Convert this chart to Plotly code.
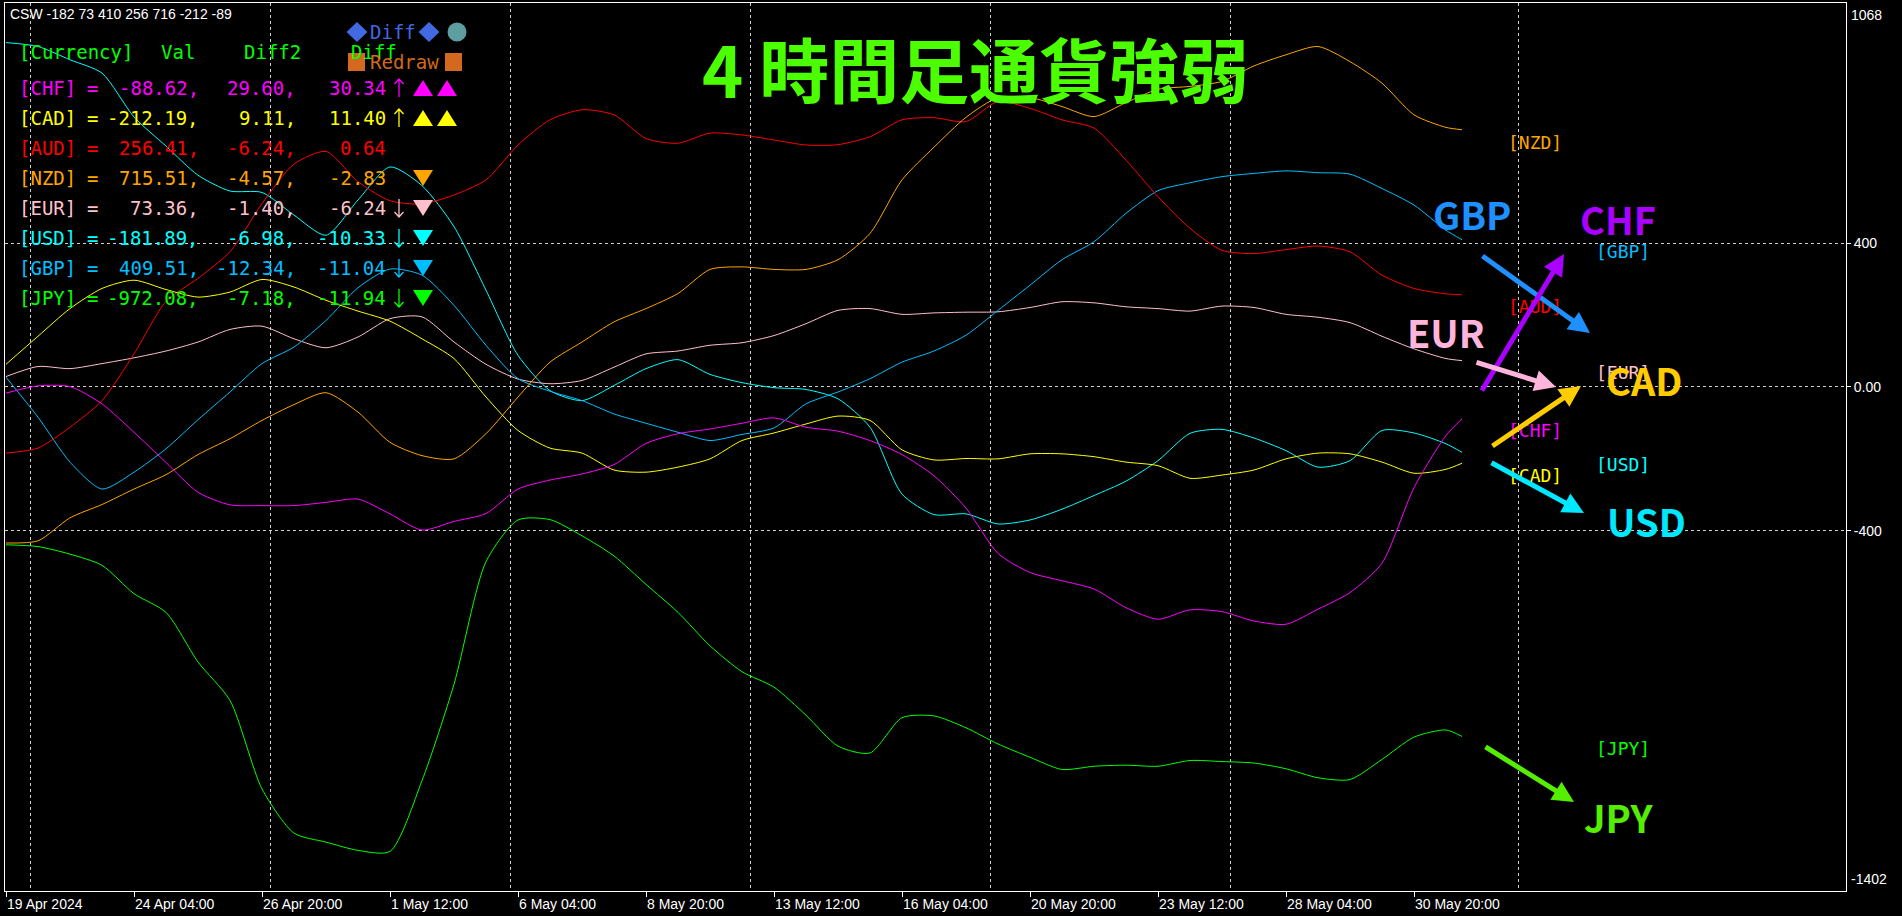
import plotly.graph_objects as go

# ---- bars: 4H bar index (0 = 19 Apr 2024 12:00, weekend bars skipped) ----
bar_idx = list(range(0, 181, 4)) + [182]

usd = [958, 947, 910, 873, 751, 670, 589, 545, 541, 478, 422, 520, 612, 560, 446, 269,
       88, -10, -38, 4, 51, 76, 35, 12, -2, -7, -33, -112, -298, -355, -353, -381,
       -370, -340, -302, -262, -205, -129, -118, -142, -177, -223, -205, -121, -128, -158, -181.89]
eur = [29, 57, 51, 65, 81, 100, 125, 160, 169, 134, 109, 139, 190, 195, 125, 63,
       22, 9, 18, 55, 92, 100, 116, 123, 143, 176, 213, 218, 202, 206, 208, 209,
       221, 237, 234, 223, 218, 211, 225, 221, 202, 194, 179, 141, 106, 79, 73.36]
gbp = [27, -84, -209, -284, -237, -172, -91, -14, 65, 111, 185, 276, 328, 311, 227, 116,
       23, -12, -38, -75, -101, -126, -149, -132, -114, -47, -14, 23, 69, 100, 144, 213,
       283, 354, 404, 483, 546, 568, 585, 594, 601, 596, 592, 552, 506, 436, 409.51]
aud = [-184, -170, -112, -38, 92, 238, 302, 376, 510, 620, 655, 571, 518, 509, 534, 576,
       673, 743, 771, 757, 691, 678, 706, 701, 687, 673, 674, 696, 743, 749, 738, 794,
       775, 743, 720, 631, 529, 441, 380, 371, 382, 392, 376, 311, 274, 259, 256.41]
nzd = [-434, -428, -364, -327, -284, -244, -188, -144, -93, -49, -16, -70, -154, -191, -200, -130,
       -28, 69, 125, 181, 218, 260, 327, 334, 327, 327, 354, 427, 576, 667, 750, 805,
       805, 780, 752, 791, 828, 836, 850, 893, 924, 947, 905, 845, 757, 722, 715.51]
cad = [63, 141, 218, 274, 297, 271, 250, 264, 299, 278, 241, 211, 183, 134, 79, -28,
       -121, -170, -184, -231, -237, -223, -200, -149, -128, -103, -81, -93, -175, -203, -199, -200,
       -186, -186, -194, -209, -219, -254, -245, -231, -200, -184, -186, -209, -240, -229, -212.19]
chf = [-17, 3, 1, -47, -126, -210, -293, -328, -330, -330, -321, -312, -353, -398, -374, -352,
       -284, -259, -242, -216, -157, -130, -117, -101, -86, -112, -123, -149, -188, -247, -337, -463,
       -516, -539, -562, -614, -646, -620, -625, -651, -660, -618, -572, -490, -280, -135, -88.62]
jpy = [-439, -444, -465, -496, -575, -627, -765, -872, -1118, -1241, -1266, -1289, -1292, -1095, -827, -486,
       -370, -369, -414, -470, -549, -627, -720, -792, -835, -913, -999, -1018, -920, -915, -948, -993,
       -1030, -1064, -1055, -1052, -1055, -1039, -1042, -1046, -1062, -1087, -1092, -1036, -974, -954, -972.08]

currencies = ["CHF", "CAD", "AUD", "NZD", "EUR", "USD", "GBP", "JPY"]
series = {"CHF": chf, "CAD": cad, "AUD": aud, "NZD": nzd,
          "EUR": eur, "USD": usd, "GBP": gbp, "JPY": jpy}
diff2 = {"CHF": 29.60, "CAD": 9.11, "AUD": -6.24, "NZD": -4.57,
         "EUR": -1.40, "USD": -6.98, "GBP": -12.34, "JPY": -7.18}
diff = {"CHF": 30.34, "CAD": 11.40, "AUD": 0.64, "NZD": -2.83,
        "EUR": -6.24, "USD": -10.33, "GBP": -11.04, "JPY": -11.94}
# +1 rising, -1 falling, 0 no arrow
trend_arrow = {"CHF": 1, "CAD": 1, "AUD": 0, "NZD": 0,
               "EUR": -1, "USD": -1, "GBP": -1, "JPY": -1}
# number of marks and direction: +n = up triangles, -n = down triangles
trend_marks = {"CHF": 2, "CAD": 2, "AUD": 0, "NZD": -1,
               "EUR": -1, "USD": -1, "GBP": -1, "JPY": -1}
csw_values = [-182, 73, 410, 256, 716, -212, -89]

tick_bars = [0, 16, 32, 48, 64, 80, 96, 112, 128, 144, 160, 176]
tick_labels = ["19 Apr 2024", "24 Apr 04:00", "26 Apr 20:00", "1 May 12:00",
               "6 May 04:00", "8 May 20:00", "13 May 12:00", "16 May 04:00",
               "20 May 20:00", "23 May 12:00", "28 May 04:00", "30 May 20:00"]
week_bars = [3, 33, 63, 93, 123, 153, 189]

colors = {"CHF": "#ff00ff", "CAD": "#ffff00", "AUD": "#ff0000", "NZD": "#ffa500",
          "EUR": "#ffc0cb", "USD": "#00ffff", "GBP": "#00bfff", "JPY": "#00ff00"}

W, H = 1902, 916
PL, PR, PT, PB = 5, 1846, 3, 891


def px(x):
    return (x - PL) / (PR - PL)


def py(y):
    return (PB - y) / (PB - PT)


MONO = "DejaVu Sans Mono"
SANS = "Liberation Sans"
CJK = "Noto Sans CJK JP"

fig = go.Figure()
for cur in ["USD", "EUR", "GBP", "AUD", "NZD", "CAD", "CHF", "JPY"]:
    fig.add_trace(go.Scatter(
        x=bar_idx, y=series[cur], mode="lines", name=cur,
        line=dict(color=colors[cur], width=1, shape="spline", smoothing=0.7),
        hoverinfo="skip"))

annotations = []
shapes = []


def txt(s, x, y, color, size, family, xanchor="left"):
    annotations.append(dict(
        text=s, x=px(x), y=py(y), xref="paper", yref="paper",
        xanchor=xanchor, yanchor="middle", showarrow=False, borderpad=0,
        font=dict(color=color, size=size, family=family)))


def poly(points, color):
    d = "M " + " L ".join(f"{px(x):.5f},{py(y):.5f}" for x, y in points) + " Z"
    shapes.append(dict(type="path", path=d, xref="paper", yref="paper",
                       fillcolor=color, line=dict(width=0), layer="above"))


def stroke(segments, color, width=1.3):
    d = " ".join("M " + " L ".join(f"{px(x):.5f},{py(y):.5f}" for x, y in seg)
                 for seg in segments)
    shapes.append(dict(type="path", path=d, xref="paper", yref="paper",
                       line=dict(color=color, width=width), layer="above"))


# header line
txt("CSW " + " ".join(str(v) for v in csw_values), 9, 14, "#ffffff", 14, SANS)

# status markers
poly([(357, 22), (367.5, 32), (357, 42), (346.5, 32)], "#4169e1")
txt("Diff", 369, 32, "#4169e1", 19, MONO)
poly([(429, 22), (439.5, 32), (429, 42), (418.5, 32)], "#4169e1")
shapes.append(dict(type="circle", xref="paper", yref="paper",
                   x0=px(447.5), x1=px(466.5), y0=py(41.5), y1=py(22.5),
                   fillcolor="#5f9ea0", line=dict(width=0), layer="above"))

# table header
green = "#00ff00"
txt("[Currency]", 18, 52, green, 19, MONO)
txt("Val", 160, 52, green, 19, MONO)
txt("Diff2", 243, 52, green, 19, MONO)
txt("Diff", 350, 52, green, 19, MONO)

poly([(348, 53), (365, 53), (365, 71), (348, 71)], "#d2691e")
txt("Redraw", 369, 62, "#d2691e", 19, MONO)
poly([(445, 53), (462, 53), (462, 71), (445, 71)], "#d2691e")

# table rows
for r, cur in enumerate(currencies):
    y = 88 + 30 * r
    c = colors[cur]
    txt(f"[{cur}]", 18, y, c, 19, MONO)
    txt("=", 86, y, c, 19, MONO)
    txt(f"{series[cur][-1]:.2f},", 200, y, c, 19, MONO, xanchor="right")
    txt(f"{diff2[cur]:.2f},", 297, y, c, 19, MONO, xanchor="right")
    txt(f"{diff[cur]:.2f}", 387, y, c, 19, MONO, xanchor="right")
    a = trend_arrow[cur]
    if a:
        tip, tail = y - 9 * a, y + 9 * a
        stroke([[(399, tail), (399, tip)],
                [(394.5, tip + 5 * a), (399, tip), (403.5, tip + 5 * a)]], c)
    n = trend_marks[cur]
    for k in range(abs(n)):
        cx = 423 + 24 * k
        if n > 0:
            poly([(cx - 10, y + 8), (cx + 10, y + 8), (cx, y - 8)], c)
        else:
            poly([(cx - 10, y - 8), (cx + 10, y - 8), (cx, y + 8)], c)

# title
txt("<b>4 時間足通貨強弱</b>", 975, 67, "#4cff00", 70, CJK, xanchor="center")

# currency tags beside the line ends
tags = [("NZD", 1507, 142), ("GBP", 1595, 251), ("AUD", 1507, 306), ("EUR", 1595, 372),
        ("CHF", 1507, 430), ("USD", 1595, 464), ("CAD", 1507, 475), ("JPY", 1595, 748)]
for cur, x, y in tags:
    txt(f"[{cur}]", x, y, colors[cur], 18, MONO)

# direction arrows with big labels
big = [  # name, colour, label centre, arrow tail, arrow tip
    ("GBP", "#1e90ff", (1472, 213), (1481, 255), (1590, 333)),
    ("CHF", "#aa00ff", (1618, 219), (1481, 392), (1564, 254)),
    ("EUR", "#ffb4dc", (1446, 331), (1475, 362), (1556, 387)),
    ("CAD", "#ffcc00", (1644, 379), (1491, 447), (1581, 386)),
    ("USD", "#00e8ff", (1646, 521), (1490, 462), (1584, 513)),
    ("JPY", "#55ee00", (1618, 816), (1484, 746), (1574, 802)),
]
for name, c, (lx, ly), (tx, ty), (hx, hy) in big:
    annotations.append(dict(
        text="", x=px(hx), y=py(hy), xref="paper", yref="paper",
        showarrow=True, ax=tx - hx, ay=ty - hy, axref="pixel", ayref="pixel",
        arrowhead=2, arrowsize=0.85, arrowwidth=5, arrowcolor=c, standoff=0))
for name, c, (lx, ly), _, _ in big:
    txt(f"<b>{name}</b>", lx, ly, c, 38, CJK, xanchor="center")

# top / bottom scale values
for val, anchor, shift in [(1068, "top", -2), (-1402, "bottom", 2)]:
    annotations.append(dict(
        text=str(val), x=1, y=val, xref="paper", yref="y", xanchor="left",
        yanchor=anchor, yshift=shift, xshift=3, showarrow=False,
        font=dict(color="#ffffff", size=14, family=SANS)))

grid = "#cfcfcf"
fig.update_layout(
    width=W, height=H, autosize=False,
    margin=dict(l=PL, r=W - PR, t=PT, b=H - PB, pad=0),
    paper_bgcolor="#000000", plot_bgcolor="#000000",
    showlegend=False,
    annotations=annotations, shapes=shapes,
    xaxis=dict(
        range=[-0.125, 230], showgrid=False, zeroline=False,
        showline=True, linecolor="#ffffff", linewidth=1, mirror=True,
        tickmode="array", tickvals=tick_bars, ticktext=tick_labels,
        ticks="outside", ticklen=5, tickcolor="#ffffff", tickwidth=1,
        ticklabelposition="outside right",
        tickfont=dict(color="#ffffff", size=14, family=SANS),
        minor=dict(tickmode="array", tickvals=week_bars, showgrid=True,
                   gridcolor=grid, griddash="3px,3px", gridwidth=1, ticks=""),
    ),
    yaxis=dict(
        side="right", range=[-1402, 1068], zeroline=False,
        showline=True, linecolor="#ffffff", linewidth=1, mirror=True,
        tickmode="array", tickvals=[400, 0, -400], ticktext=["400", "0.00", "-400"],
        ticks="outside", ticklen=4, tickcolor="#ffffff",
        showgrid=True, gridcolor=grid, griddash="3px,3px", gridwidth=1,
        tickfont=dict(color="#ffffff", size=14, family=SANS),
    ),
)

fig.write_html("out.html")
